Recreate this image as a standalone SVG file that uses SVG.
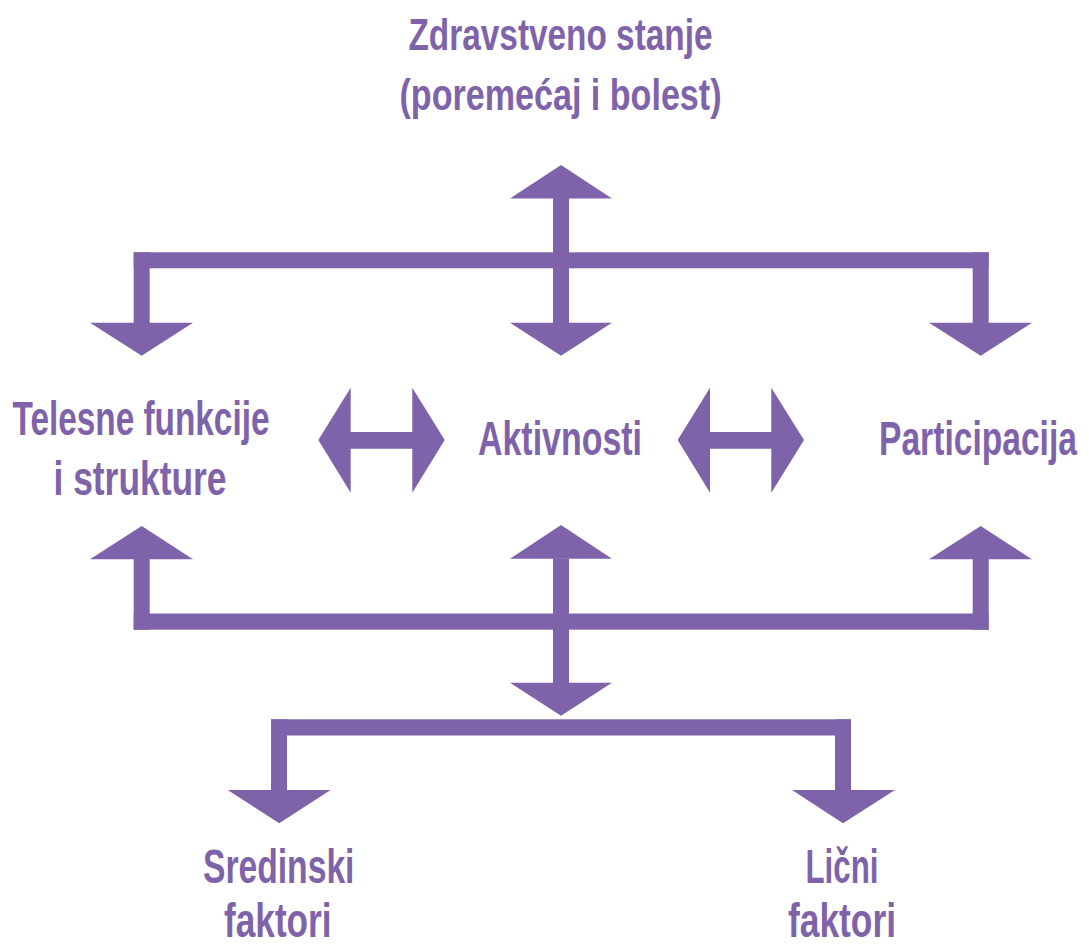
<svg xmlns="http://www.w3.org/2000/svg" width="1089" height="947" viewBox="0 0 1089 947">
<style>
  .t { font-family: "Liberation Sans", Arial, sans-serif; font-weight: bold; fill: #7F63AA; text-anchor: middle; }
  .big { font-size: 48px; }
  .top { font-size: 44px; }
  .c { fill: #7F63AA; stroke: none; }
</style>
<rect width="1089" height="947" fill="#FFFFFF"/>
<g id="connectors" class="c">
  <!-- top structure -->
  <polygon points="510,198.5 561,165 612,198.5"/>
  <rect x="553" y="198" width="16" height="125"/>
  <rect x="133.7" y="252.3" width="855" height="16"/>
  <rect x="133.7" y="252.3" width="16" height="70.7"/>
  <rect x="972.7" y="252.3" width="16" height="70.7"/>
  <polygon points="90,322.7 193,322.7 141.7,355.7"/>
  <polygon points="510,322.7 612,322.7 561,355.7"/>
  <polygon points="929,322.7 1032,322.7 980.7,355.7"/>
  <!-- double arrows -->
  <polygon points="318.3,440 350.7,387.7 350.7,432 412.3,432 412.3,387.7 444.7,440 412.3,492.7 412.3,448.7 350.7,448.7 350.7,492.7"/>
  <polygon points="677.7,440 710,387.7 710,432 771.3,432 771.3,387.7 804,440 771.3,492.7 771.3,448.7 710,448.7 710,492.7"/>
  <!-- bottom structure -->
  <polygon points="90,559.3 193,559.3 141.7,526"/>
  <polygon points="510,558.7 612,558.7 561,525"/>
  <polygon points="929,559.3 1032,559.3 980.7,526"/>
  <rect x="133.7" y="559" width="16" height="70.7"/>
  <rect x="972.7" y="559" width="16" height="70.7"/>
  <rect x="553" y="558.5" width="16" height="124.5"/>
  <rect x="133.7" y="613.5" width="855" height="16.2"/>
  <polygon points="510,682.7 612,682.7 561,715.7"/>
  <rect x="271" y="719.3" width="580" height="16.2"/>
  <rect x="271" y="719.3" width="16" height="71"/>
  <rect x="835" y="719.3" width="16" height="71"/>
  <polygon points="227.7,790 330.6,790 279.2,823.3"/>
  <polygon points="792,790 895,790 843,823.3"/>
</g>
<g id="node-zdravstveno">
  <text class="t top" x="560.5" y="49.5" textLength="304" lengthAdjust="spacingAndGlyphs">Zdravstveno stanje</text>
  <text class="t top" x="560.5" y="110" textLength="322" lengthAdjust="spacingAndGlyphs">(poremećaj i bolest)</text>
</g>
<g id="node-telesne">
  <text class="t big" x="141" y="435" textLength="257" lengthAdjust="spacingAndGlyphs">Telesne funkcije</text>
  <text class="t big" x="140" y="495" textLength="173" lengthAdjust="spacingAndGlyphs">i strukture</text>
</g>
<g id="node-aktivnosti">
  <text class="t big" x="560" y="454.5" textLength="164" lengthAdjust="spacingAndGlyphs">Aktivnosti</text>
</g>
<g id="node-participacija">
  <text class="t big" transform="translate(978,454.5) scale(0.7,1)" x="0" y="0">Participacija</text>
</g>
<g id="node-sredinski">
  <text class="t big" x="278.7" y="883.3" textLength="151.5" lengthAdjust="spacingAndGlyphs">Sredinski</text>
  <text class="t big" x="277.8" y="937" textLength="107.5" lengthAdjust="spacingAndGlyphs">faktori</text>
</g>
<g id="node-licni">
  <text class="t big" x="842" y="883.3" textLength="73" lengthAdjust="spacingAndGlyphs">Lični</text>
  <text class="t big" x="842" y="937" textLength="108" lengthAdjust="spacingAndGlyphs">faktori</text>
</g>
</svg>
